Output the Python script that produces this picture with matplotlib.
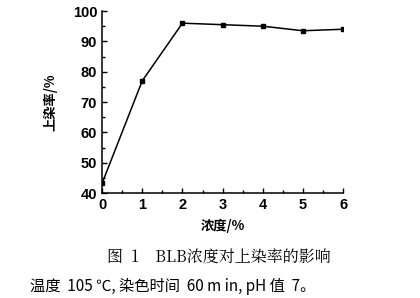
import matplotlib
matplotlib.use('Agg')
import matplotlib.pyplot as plt
from matplotlib.ticker import MultipleLocator

plt.rcParams['font.family'] = ['Liberation Sans', 'Noto Sans CJK SC', 'DejaVu Sans']

conc = [0, 1, 2, 3, 4, 5, 6]
uptake = [43.2, 77.0, 96.0, 95.5, 95.0, 93.5, 94.0]

fig = plt.figure(figsize=(4.2, 2.98), dpi=100)
ax = fig.add_axes([0.243, 0.352, 0.574, 0.611])

ax.plot(conc, uptake, color='black', lw=1.1, marker='s', ms=3.2)

ax.set_xlim(0, 6)
ax.set_ylim(40, 100)
ax.xaxis.set_major_locator(MultipleLocator(1))
ax.xaxis.set_minor_locator(MultipleLocator(0.5))
ax.yaxis.set_major_locator(MultipleLocator(10))
ax.yaxis.set_minor_locator(MultipleLocator(5))
ax.tick_params(which='both', direction='in', width=1, labelsize=10.5)
ax.tick_params(which='major', length=3.5)
ax.tick_params(which='minor', length=2)
for lab in ax.get_xticklabels() + ax.get_yticklabels():
    lab.set_fontweight('bold')
for s in ['top', 'right']:
    ax.spines[s].set_visible(False)
for s in ['left', 'bottom']:
    ax.spines[s].set_linewidth(1.1)

ax.set_xlabel('浓度/%', fontsize=9.5, fontweight='bold', family=['Noto Sans CJK SC', 'DejaVu Sans'], labelpad=5)
ax.set_ylabel('上染率/%', fontsize=9.5, fontweight='bold', family=['Noto Sans CJK SC', 'DejaVu Sans'], labelpad=11)

fig.text(0.52, 0.135, '图  1    BLB浓度对上染率的影响', ha='center', va='center', fontsize=11.5,
         family=['Noto Serif CJK SC', 'Noto Sans CJK SC', 'DejaVu Sans'])
fig.text(0.072, 0.037, '温度  105 ℃, 染色时间  60 m in, pH 值  7。', ha='left', va='center', fontsize=11,
         family=['Noto Sans CJK SC', 'DejaVu Sans'])

fig.savefig('out.png', dpi=100)
